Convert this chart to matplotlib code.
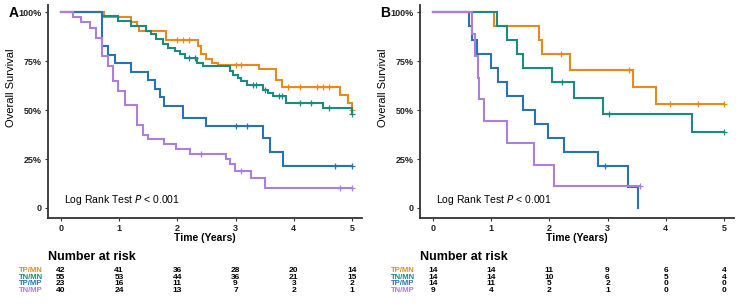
import matplotlib
matplotlib.use("Agg")
import matplotlib.pyplot as plt
import numpy as np
from matplotlib.transforms import blended_transform_factory

plt.rcParams['font.family'] = ['Liberation Sans', 'DejaVu Sans']

groups = ["TP/MN", "TN/MN", "TP/MP", "TN/MP"]
colors = ["#E8891C", "#188C7E", "#2A72B8", "#A97FE0"]
risk_times = [0, 1, 2, 3, 4, 5]

# panel A
a_tpmn_t = [0, 0.75, 1.2, 1.3, 1.35, 1.8, 2.35, 2.4, 2.5, 2.6, 2.7, 3.4, 3.7, 3.8, 4.8, 4.93, 5.0]
a_tpmn_s = [1.0, 0.976, 0.952, 0.929, 0.905, 0.857, 0.829, 0.786, 0.76, 0.743, 0.729, 0.708, 0.656, 0.617, 0.575, 0.535, 0.50]
a_tpmn_c = [2.0, 2.1, 2.2, 3.0, 3.1, 3.9, 4.1, 4.4, 4.5, 4.6, 5.0]

a_tnmn_t = [0, 0.7, 0.98, 1.21, 1.47, 1.55, 1.64, 1.76, 1.84, 1.96, 2.04, 2.13, 2.33, 2.44, 2.9, 2.96,
            3.04, 3.1, 3.19, 3.47, 3.56, 3.64, 3.87, 4.5, 5.0]
a_tnmn_s = [1.0, 0.982, 0.958, 0.93, 0.907, 0.89, 0.864, 0.838, 0.82, 0.80, 0.786, 0.768, 0.743, 0.725, 0.70, 0.68,
            0.665, 0.648, 0.627, 0.605, 0.587, 0.57, 0.538, 0.51, 0.48]
a_tnmn_c = [2.2, 2.3, 3.3, 3.35, 3.5, 3.75, 3.8, 4.1, 4.3, 4.6, 5.0]

a_tpmp_t = [0, 0.7, 0.81, 0.93, 1.21, 1.5, 1.61, 1.7, 1.78, 2.1, 2.5, 3.47, 3.59, 3.82]
a_tpmp_s = [1.0, 0.826, 0.783, 0.739, 0.696, 0.652, 0.609, 0.565, 0.522, 0.46, 0.417, 0.36, 0.285, 0.216]
a_tpmp_c = [3.0, 3.2, 4.7, 5.0]

a_tnmp_t = [0, 0.21, 0.35, 0.5, 0.61, 0.7, 0.81, 0.9, 0.98, 1.1, 1.3, 1.41, 1.5, 1.78, 1.98, 2.21, 2.84, 2.9, 2.99, 3.27, 3.5]
a_tnmp_s = [1.0, 0.975, 0.95, 0.92, 0.87, 0.775, 0.725, 0.65, 0.60, 0.525, 0.425, 0.375, 0.35, 0.325, 0.30, 0.275,
            0.25, 0.225, 0.19, 0.152, 0.10]
a_tnmp_c = [2.4, 3.1, 4.8, 5.0]

a_risk = [[42, 41, 36, 28, 20, 14],
          [55, 53, 44, 36, 21, 15],
          [23, 16, 11, 9, 3, 2],
          [40, 24, 13, 7, 2, 1]]

# panel B
b_tpmn_t = [0, 1.05, 1.83, 1.87, 2.35, 3.43, 3.83]
b_tpmn_s = [1.0, 0.929, 0.857, 0.786, 0.707, 0.619, 0.531]
b_tpmn_c = [2.2, 3.37, 4.07, 4.55, 5.0]

b_tnmn_t = [0, 1.1, 1.28, 1.45, 1.55, 2.05, 2.43, 2.93, 4.45]
b_tnmn_s = [1.0, 0.929, 0.857, 0.786, 0.714, 0.643, 0.563, 0.482, 0.386]
b_tnmn_c = [2.22, 3.03, 5.0]

b_tpmp_t = [0, 0.62, 0.68, 0.76, 1.0, 1.12, 1.27, 1.55, 1.75, 1.98, 2.25, 2.83, 3.35, 3.52]
b_tpmp_s = [1.0, 0.929, 0.857, 0.786, 0.714, 0.643, 0.571, 0.5, 0.429, 0.357, 0.286, 0.214, 0.107, 0.0]
b_tpmp_c = [2.95]

b_tnmp_t = [0, 0.68, 0.73, 0.77, 0.8, 0.88, 1.27, 1.73, 2.08]
b_tnmp_s = [1.0, 0.889, 0.778, 0.667, 0.556, 0.444, 0.333, 0.222, 0.111]
b_tnmp_c = [3.55]

b_risk = [[14, 14, 11, 9, 6, 4],
          [14, 14, 10, 6, 5, 4],
          [14, 11, 5, 2, 0, 0],
          [9, 4, 2, 1, 0, 0]]

panels = [
    ("A", [(a_tpmn_t, a_tpmn_s, a_tpmn_c), (a_tnmn_t, a_tnmn_s, a_tnmn_c),
           (a_tpmp_t, a_tpmp_s, a_tpmp_c), (a_tnmp_t, a_tnmp_s, a_tnmp_c)], a_risk),
    ("B", [(b_tpmn_t, b_tpmn_s, b_tpmn_c), (b_tnmn_t, b_tnmn_s, b_tnmn_c),
           (b_tpmp_t, b_tpmp_s, b_tpmp_c), (b_tnmp_t, b_tnmp_s, b_tnmp_c)], b_risk),
]

fig = plt.figure(figsize=(7.44, 3.05), dpi=100)
lefts = [0.0645, 0.5645]
spine_col = "#333333"

for (letter, curves, risk), left in zip(panels, lefts):
    ax = fig.add_axes([left, 0.285, 0.422, 0.70])
    for (t, s, c), col in zip(curves, colors):
        end = max(t[-1], max(c))
        xs = list(t) + [end]
        ys = list(s) + [s[-1]]
        ax.step(xs, ys, where='post', color=col, lw=1.5, solid_joinstyle='miter')
        idx = np.searchsorted(t, c, side='right') - 1
        cy = np.array(s)[idx]
        ax.plot(c, cy, ls='none', marker='+', ms=4.5, mew=0.9, color=col)
    ax.set_xlim(-0.22, 5.17)
    ax.set_ylim(-0.052, 1.04)
    ax.set_xticks(risk_times)
    ax.set_yticks([0, 0.25, 0.5, 0.75, 1.0])
    ax.set_yticklabels(["0", "25%", "50%", "75%", "100%"])
    for lab in ax.get_xticklabels() + ax.get_yticklabels():
        lab.set_fontweight('bold')
        lab.set_fontsize(6.5)
        lab.set_color("#222222")
    ax.tick_params(length=2.5, width=0.8, color=spine_col, pad=2)
    for side in ['top', 'right']:
        ax.spines[side].set_visible(False)
    for side in ['left', 'bottom']:
        ax.spines[side].set_linewidth(1.3)
        ax.spines[side].set_color(spine_col)
    ax.set_xlabel("Time (Years)", fontsize=7.5, fontweight='bold', labelpad=0)
    ax.set_ylabel("Overall Survival", fontsize=8)
    ax.yaxis.set_label_coords(-0.103, 0.61)
    ax.text(0.05, 0.038, "Log Rank Test $\\mathit{P}$ < 0.001", fontsize=7.5,
            transform=ax.transData, va='center')
    fig.text(left - 0.053, 0.945, letter, fontsize=10, fontweight='bold')

    trans = blended_transform_factory(ax.transData, fig.transFigure)
    fig.text(left - 0.0005, 0.158, "Number at risk", fontsize=9, fontweight='bold', va='center')
    row_y = [0.1125, 0.091, 0.0695, 0.048]
    for gi, (g, col) in enumerate(zip(groups, colors)):
        fig.text(left - 0.007, row_y[gi], g, fontsize=5.6, fontweight='bold', color=col,
                 ha='right', va='center')
        for tt, n in zip(risk_times, risk[gi]):
            ax.text(tt, row_y[gi], str(n), transform=trans, fontsize=6, fontweight='bold',
                    ha='center', va='center', clip_on=False)

fig.savefig("out.png", dpi=100)
